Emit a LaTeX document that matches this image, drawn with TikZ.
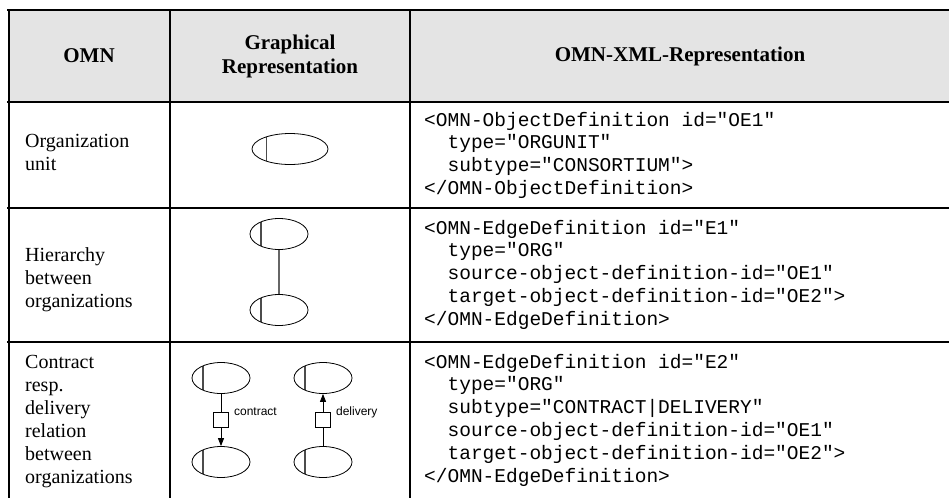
\documentclass[tikz,border=0pt]{standalone}
\usepackage{fontspec}
\setmainfont{Liberation Serif}
\setsansfont{Liberation Sans}
\setmonofont{Liberation Mono}
\usetikzlibrary{shapes.geometric,arrows.meta,calc}
\definecolor{headgray}{HTML}{E4E4E4}

\begin{document}
\begin{tikzpicture}[x=1pt,y=-1pt,
  rule/.style={line width=2pt},
  head/.style={font=\fontsize{21}{24}\selectfont\bfseries,align=center},
  cell/.style={anchor=north west,inner sep=0pt,align=left,font=\fontsize{20}{23}\selectfont},
  code/.style={anchor=north west,inner sep=0pt,align=left,font=\fontsize{19.5}{22.8}\selectfont\ttfamily},
  org/.style={draw,ellipse,line width=0.8pt,inner sep=0pt,minimum width=#1,minimum height=31pt,
    path picture={\draw[line width=1.2pt,black!70]
      ($(path picture bounding box.south west)!0.19!(path picture bounding box.south east)$) --
      ($(path picture bounding box.north west)!0.19!(path picture bounding box.north east)$);}},
  org/.default=58pt,
  relbox/.style={draw,fill=white,inner sep=0pt,minimum size=15pt,line width=0.8pt},
  lbl/.style={font=\fontsize{12}{14}\selectfont\sffamily,anchor=west,inner sep=0pt}]
\useasboundingbox (0,0) rectangle (949,498);

% table
\fill[headgray] (9,10) rectangle (949,102);
\draw[rule] (7,10) -- (949,10);
\draw[rule] (7,102) -- (949,102);
\draw[rule] (7,208) -- (949,208);
\draw[rule] (7,342) -- (949,342);
\draw[rule] (9,9) -- (9,498);
\draw[rule] (170,9) -- (170,498);
\draw[rule] (410,9) -- (410,498);

\node[head] (h-omn) at (89,56) {OMN};
\node[head] (h-graph) at (290,56) {Graphical\\Representation};
\node[head] (h-xml) at (680,56) {OMN-XML-Representation};

% organization unit
\node[cell] (t-unit) at (25,131) {\strut Organization\\unit};
\node[org=76pt] (unit) at (290,149) {};
\node[code] (x-unit) at (424,110) {\strut<OMN-ObjectDefinition id="OE1"\\
\ \ type="ORGUNIT"\\
\ \ subtype="CONSORTIUM">\\
</OMN-ObjectDefinition>};

% hierarchy
\node[cell] (t-hier) at (25,245) {\strut Hierarchy\\between\\organizations};
\node[org] (hier-top) at (279,234) {};
\node[org] (hier-bot) at (279,310) {};
\draw[line width=1.2pt,black!60] (hier-top) -- (hier-bot);
\node[code] (x-hier) at (424,218) {\strut<OMN-EdgeDefinition id="E1"\\
\ \ type="ORG"\\
\ \ source-object-definition-id="OE1"\\
\ \ target-object-definition-id="OE2">\\
</OMN-EdgeDefinition>};

% contract / delivery
\node[cell] (t-rel) at (25,352) {\strut Contract\\resp.\\delivery\\relation\\between\\organizations};
\node[org] (con-top) at (221,378) {};
\node[org] (con-bot) at (221,462) {};
\node[relbox] (con-box) at (221,420) {};
\draw[line width=0.8pt] (con-top) -- (con-box);
\draw[line width=0.8pt,-{Triangle[length=8pt,width=6pt]}] (con-box) -- (con-bot);
\node[lbl] (con-lbl) at ([xshift=5pt,yshift=8pt]con-box.east) {contract};
\node[org] (del-top) at (323,378) {};
\node[org] (del-bot) at (323,462) {};
\node[relbox] (del-box) at (323,420) {};
\draw[line width=0.8pt] (del-bot) -- (del-box);
\draw[line width=0.8pt,-{Triangle[length=8pt,width=6pt]}] (del-box) -- (del-top);
\node[lbl] (del-lbl) at ([xshift=5pt,yshift=8pt]del-box.east) {delivery};
\node[code] (x-rel) at (424,352) {\strut<OMN-EdgeDefinition id="E2"\\
\ \ type="ORG"\\
\ \ subtype="CONTRACT|DELIVERY"\\
\ \ source-object-definition-id="OE1"\\
\ \ target-object-definition-id="OE2">\\
</OMN-EdgeDefinition>};
\end{tikzpicture}
\end{document}
